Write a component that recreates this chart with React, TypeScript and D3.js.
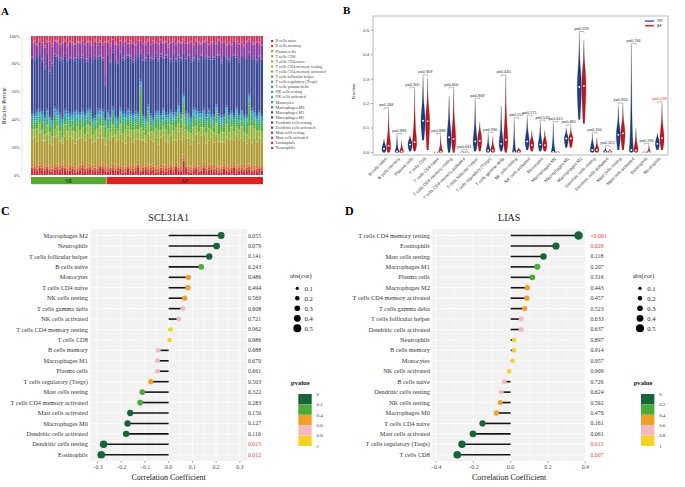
import React from 'react';
import * as d3 from 'd3';

const SERIF = '"Liberation Serif", "Times New Roman", serif';
const SANS = '"Liberation Sans", Arial, sans-serif';

const cellTypes = [
  'B cells naive', 'B cells memory', 'Plasma cells', 'T cells CD8', 'T cells CD4 naive',
  'T cells CD4 memory resting', 'T cells CD4 memory activated', 'T cells follicular helper',
  'T cells regulatory (Tregs)', 'T cells gamma delta', 'NK cells resting', 'NK cells activated',
  'Monocytes', 'Macrophages M0', 'Macrophages M1', 'Macrophages M2', 'Dendritic cells resting',
  'Dendritic cells activated', 'Mast cells resting', 'Mast cells activated', 'Eosinophils', 'Neutrophils',
];
const cellColors = [
  '#c0303a', '#cf553a', '#c8843a', '#b09a36', '#a8ae3a', '#94b63c', '#78b23c', '#56ac3e',
  '#3ea852', '#34a672', '#30a892', '#2ea8b0', '#2c96c0', '#2f78b6', '#3658a6', '#3a4894',
  '#4a40a0', '#6a3ca0', '#8c3c9c', '#ac3a94', '#c0387a', '#c8385a',
];

// ---------- Panel A data (percent per sample) ----------
const groupNames = ['SR', 'AF'];
const groupSizes = [30, 62];
const bNaive = [
  4,5,3,6,4,3,5,4,3,4, 5,3,6,4,3,4,5,2,3,4, 6,3,4,5,3,4,3,6,5,4,
  3,4,5,3,4,6,2,3,5,4, 3,4,6,3,4,5,3,4,5,2, 3,4,4,3,4,5,3,6,4,3, 12,5,3,2,4,5,3,4,6,3, 4,5,3,4,2,3,5,4,3,4, 6,3,4,5,3,4,5,3,4,3, 5,4,
];
const cd8 = [
  20,22,18,25,19,17,24,21,16,20, 23,18,15,22,20,24,19,17,21,23, 18,20,25,22,17,19,21,24,20,18,
  22,19,24,17,21,26,20,18,23,25, 19,22,17,24,20,18,26,21,19,23, 17,22,25,20,18,24,21,19,27,22, 15,20,23,18,21,24,19,26,22,17, 20,23,18,25,21,19,16,24,22,20, 18,25,21,23,19,17,22,20,24,18, 21,19,
];
const cd4MemResting = [
  7,5,9,6,8,4,7,10,6,5, 8,7,4,9,6,7,5,8,10,6, 7,4,6,9,5,8,7,6,9,5,
  8,6,10,5,7,9,6,11,7,5, 9,8,6,10,7,5,9,6,8,7, 11,5,7,9,6,8,7,10,6,9, 17,7,5,8,10,6,9,7,5,8, 10,6,7,9,5,8,7,11,6,9, 7,5,8,10,6,7,9,15,7,8, 6,9,
];
const tfh = [
  4,3,5,2,6,4,3,5,4,7, 3,4,6,2,5,3,4,7,3,5, 4,6,3,5,4,2,5,4,3,6,
  5,3,6,4,2,5,7,3,4,6, 3,5,4,33,3,6,4,5,2,4, 6,3,5,4,7,3,5,4,6,3, 8,4,5,3,6,4,7,3,5,4, 6,3,4,5,7,3,4,6,5,3, 4,7,3,5,4,6,18,4,5,3, 6,4,
];
const macM2 = [
  42,44,39,46,40,34,45,41,43,38, 44,40,47,42,39,45,41,37,43,46, 40,42,38,44,41,47,39,43,40,29,
  46,42,48,40,44,49,41,45,43,47, 42,46,40,24,44,48,41,45,49,43, 40,47,42,46,44,41,48,43,39,45, 32,42,47,44,40,46,43,49,41,45, 42,48,44,40,47,43,46,41,45,42, 48,40,44,47,42,45,34,43,46,41, 44,47,
];
const mastResting = [
  10,12,8,9,11,14,8,10,13,9, 11,8,12,10,9,13,11,8,10,12, 9,11,13,8,10,12,9,11,10,8,
  9,12,8,11,13,9,10,12,8,11, 13,9,10,8,12,11,9,10,13,8, 11,9,12,10,8,13,9,11,10,12, 8,11,9,13,10,8,12,9,11,10, 9,12,10,8,11,13,9,10,12,8, 11,9,13,10,8,12,9,11,10,13, 9,11,
];
const mastActivated = [
  1,2,1,1,2,1,1,18,2,1, 1,2,1,1,2,1,1,2,1,1, 2,1,1,2,1,1,2,1,1,28,
  1,2,1,1,2,1,2,1,1,2, 1,1,2,1,1,2,1,1,2,1, 1,2,1,1,2,1,1,2,1,1, 2,1,1,2,1,1,2,1,1,2, 1,1,2,1,1,2,1,1,2,1, 1,2,1,1,2,1,1,2,1,1, 2,1,
];
const neutrophils = [
  5,4,6,3,5,7,4,5,6,3, 4,6,5,3,7,4,5,6,4,5, 3,6,4,5,7,3,5,4,6,5,
  4,6,3,5,7,4,5,3,6,4, 5,7,3,4,6,5,3,7,4,5, 6,3,5,4,7,5,3,6,4,5, 3,6,5,4,7,3,5,6,4,3, 7,5,4,6,3,5,4,7,5,6, 3,4,6,5,7,4,3,5,6,4, 5,7,
];
const perSample: Record<string, number[]> = {
  'B cells naive': bNaive, 'T cells CD8': cd8, 'T cells CD4 memory resting': cd4MemResting,
  'T cells follicular helper': tfh, 'Macrophages M2': macM2, 'Mast cells resting': mastResting,
  'Mast cells activated': mastActivated, 'Neutrophils': neutrophils,
};
const typicalShare: Record<string, number> = {
  'B cells memory': 2, 'Plasma cells': 3, 'T cells CD4 naive': 0.5, 'T cells CD4 memory activated': 0.5,
  'T cells regulatory (Tregs)': 1.5, 'T cells gamma delta': 1.5, 'NK cells resting': 1.5, 'NK cells activated': 1.5,
  'Monocytes': 2, 'Macrophages M0': 1, 'Macrophages M1': 1.5, 'Dendritic cells resting': 1.5,
  'Dendritic cells activated': 0.8, 'Eosinophils': 0.5,
};
const percentTicks = [0, 0.2, 0.4, 0.6, 0.8, 1];

// ---------- Panel B data: [min, q1, median, q3, max] ----------
const srStats = [
  [0, 0.005, 0.015, 0.03, 0.055], [0, 0, 0.004, 0.01, 0.07], [0.005, 0.02, 0.032, 0.05, 0.07],
  [0.05, 0.1, 0.13, 0.17, 0.31], [0, 0, 0, 0.001, 0.003], [0, 0.03, 0.062, 0.1, 0.23],
  [0, 0, 0.001, 0.002, 0.006], [0.005, 0.025, 0.045, 0.07, 0.215], [0, 0.003, 0.008, 0.02, 0.075],
  [0.005, 0.02, 0.035, 0.06, 0.19], [0, 0, 0.001, 0.004, 0.135], [0.01, 0.03, 0.045, 0.07, 0.145],
  [0.005, 0.02, 0.032, 0.05, 0.125], [0, 0, 0.002, 0.01, 0.12], [0.02, 0.045, 0.057, 0.07, 0.1],
  [0.135, 0.22, 0.268, 0.33, 0.488], [0, 0.003, 0.01, 0.03, 0.075], [0, 0, 0.002, 0.005, 0.02],
  [0.01, 0.05, 0.072, 0.1, 0.19], [0, 0.003, 0.01, 0.03, 0.44], [0, 0, 0.001, 0.002, 0.005],
  [0.01, 0.025, 0.035, 0.055, 0.08],
];
const afStats = [
  [0, 0.01, 0.027, 0.05, 0.175], [0, 0, 0.004, 0.01, 0.048], [0.005, 0.025, 0.042, 0.07, 0.26],
  [0.01, 0.09, 0.128, 0.17, 0.305], [0, 0, 0.003, 0.01, 0.07], [0, 0.03, 0.055, 0.1, 0.26],
  [0, 0, 0.001, 0.002, 0.006], [0.005, 0.03, 0.048, 0.08, 0.125], [0, 0.003, 0.008, 0.02, 0.065],
  [0, 0.02, 0.052, 0.1, 0.31], [0, 0, 0.003, 0.01, 0.02], [0.005, 0.02, 0.03, 0.05, 0.09],
  [0.005, 0.015, 0.03, 0.05, 0.09], [0, 0, 0, 0.002, 0.005], [0.02, 0.045, 0.057, 0.07, 0.105],
  [0.118, 0.22, 0.272, 0.34, 0.46], [0, 0.003, 0.01, 0.02, 0.06], [0, 0, 0.002, 0.004, 0.015],
  [0.01, 0.05, 0.078, 0.11, 0.195], [0, 0.003, 0.008, 0.03, 0.1], [0, 0, 0.001, 0.003, 0.03],
  [0.01, 0.035, 0.058, 0.09, 0.2],
];
const pValuesB = [
  0.268, 0.899, 0.300, 0.909, 0.888, 0.800, 0.641, 0.869, 0.980, 0.440, 0.257,
  0.171, 0.532, 0.615, 0.480, 0.559, 0.184, 0.455, 0.805, 0.766, 0.294, 0.019,
];
const fractionTicks = [0, 0.1, 0.2, 0.3, 0.4, 0.5];

// ---------- Panel C data ----------
const namesC = [
  'Macrophages M2', 'Neutrophils', 'T cells follicular helper', 'B cells naive', 'Monocytes',
  'T cells CD4 naive', 'NK cells resting', 'T cells gamma delta', 'NK cells activated',
  'T cells CD4 memory resting', 'T cells CD8', 'B cells memory', 'Macrophages M1', 'Plasma cells',
  'T cells regulatory (Tregs)', 'Mast cells resting', 'T cells CD4 memory activated',
  'Mast cells activated', 'Macrophages M0', 'Dendritic cells activated', 'Dendritic cells resting', 'Eosinophils',
];
const corC = [
  0.221, 0.202, 0.171, 0.137, 0.083, 0.081, 0.067, 0.060, 0.043, 0.009, 0.004,
  -0.044, -0.047, -0.047, -0.075, -0.111, -0.120, -0.162, -0.173, -0.179, -0.274, -0.284,
];
const pC = [
  0.055, 0.079, 0.141, 0.243, 0.486, 0.494, 0.569, 0.608, 0.721, 0.962, 0.986,
  0.688, 0.670, 0.661, 0.503, 0.322, 0.283, 0.150, 0.127, 0.116, 0.015, 0.012,
];
const ticksC = [-0.3, -0.2, -0.1, 0, 0.1, 0.2, 0.3];

// ---------- Panel D data ----------
const namesD = [
  'T cells CD4 memory resting', 'Eosinophils', 'Mast cells resting', 'Macrophages M1', 'Plasma cells',
  'Macrophages M2', 'T cells CD4 memory activated', 'T cells gamma delta', 'T cells follicular helper',
  'Dendritic cells activated', 'Neutrophils', 'B cells memory', 'Monocytes', 'NK cells activated',
  'B cells naive', 'Dendritic cells resting', 'NK cells resting', 'Macrophages M0', 'T cells CD4 naive',
  'Mast cells activated', 'T cells regulatory (Tregs)', 'T cells CD8',
];
const corD = [
  0.364, 0.243, 0.176, 0.143, 0.116, 0.089, 0.087, 0.075, 0.057, 0.057, 0.019,
  0.018, 0.010, -0.008, -0.034, -0.050, -0.056, -0.076, -0.151, -0.202, -0.261, -0.286,
];
const pD = [
  0.0005, 0.028, 0.118, 0.207, 0.316, 0.443, 0.457, 0.523, 0.633, 0.637, 0.897,
  0.914, 0.957, 0.909, 0.726, 0.624, 0.592, 0.470, 0.161, 0.061, 0.015, 0.007,
];
const ticksD = [-0.4, -0.2, 0, 0.2, 0.4];

const sizeLegendValues = [0.1, 0.2, 0.3, 0.4, 0.5];
const pBinEdges = [0, 0.2, 0.4, 0.6, 0.8, 1];
const pBinColors = ['#17663a', '#4aaa3a', '#f0a028', '#f4b9c3', '#f5d224'];

const fmtMinus = (v: number, dig: number) => (v < -1e-9 ? '\u2212' : '') + Math.abs(v).toFixed(dig);

function PanelA() {
  const n = d3.sum(groupSizes);
  const idx = d3.range(n);
  const table = idx.map((i) => {
    const row: Record<string, number> = {};
    cellTypes.forEach((ct) => {
      row[ct] = perSample[ct] ? perSample[ct][i] : typicalShare[ct];
    });
    return row;
  });
  const series = d3.stack<Record<string, number>>().keys(cellTypes).offset(d3.stackOffsetExpand)(table);
  const x = d3.scaleBand<number>().domain(idx).range([31, 263]).paddingInner(0.14);
  const y = d3.scaleLinear().domain([0, 1]).range([175, 36]);
  const starts = groupSizes.map((_, g) => d3.sum(groupSizes.slice(0, g)));
  const groupCols = ['#5aa832', '#dd2222'];
  const legendY = d3.scalePoint<string>().domain(cellTypes).range([41, 148]);
  return (
    <g>
      <text x={1} y={15} fontFamily={SERIF} fontWeight="bold" fontSize={11}>A</text>
      {series.map((s, k) => (
        <g key={k} fill={cellColors[k]}>
          {s.map((d, i) => (
            <rect key={i} x={x(i)} width={x.bandwidth()} y={y(d[1])} height={Math.max(0, y(d[0]) - y(d[1]))} />
          ))}
        </g>
      ))}
      <line x1={22} x2={22} y1={36} y2={175} stroke="#c8c8c8" strokeWidth={0.5} />
      {percentTicks.map((t) => (
        <text key={t} x={20} y={y(t) + 1.5} textAnchor="end" fontFamily={SERIF} fontSize={4.6} fill="#444">
          {Math.round(t * 100)}%
        </text>
      ))}
      <text transform={`translate(6,${(36 + 175) / 2}) rotate(-90)`} textAnchor="middle" fontFamily={SERIF} fontSize={5.6} fill="#333">
        Relative Percent
      </text>
      {groupNames.map((g, gi) => {
        const x0 = x(starts[gi])!;
        const x1 = x(starts[gi] + groupSizes[gi] - 1)! + x.bandwidth();
        return (
          <g key={g}>
            <rect x={x0} y={177} width={x1 - x0} height={7.2} fill={groupCols[gi]} />
            <text x={(x0 + x1) / 2} y={182.6} textAnchor="middle" fontFamily={SERIF} fontSize={5.2} fill="#222">{g}</text>
          </g>
        );
      })}
      {cellTypes.map((ct, k) => (
        <g key={ct}>
          <rect x={271} y={legendY(ct)! - 1.1} width={2.2} height={2.2} fill={cellColors[k]} />
          <text x={275.5} y={legendY(ct)! + 1.4} fontFamily={SERIF} fontSize={4.1} fill="#444">
            {ct.replace('Macrophages ', 'Macrophages   ')}
          </text>
        </g>
      ))}
    </g>
  );
}

function PanelB() {
  const y = d3.scaleLinear().domain([0, 0.5]).range([152.4, 30.4]);
  const x = d3.scalePoint<string>().domain(cellTypes).range([386.3, 659.7]);
  const off = 2.3;
  const hw = 2.25;
  const violinPath = (s: number[], cx: number) => {
    const [mn, q1, md, q3, mx] = s;
    const pts: [number, number][] = [
      [mn, 0.35], [q1, 0.85], [md, 1], [q3, 0.7], [q3 + (mx - q3) * 0.3, 0.2], [mx, 0],
    ];
    return d3.area<[number, number]>()
      .y((d) => y(d[0]))
      .x0((d) => cx - d[1] * hw)
      .x1((d) => cx + d[1] * hw)
      .curve(d3.curveBasis)(pts) || '';
  };
  return (
    <g>
      <defs>
        <linearGradient id="gSR" x1="0" y1="1" x2="0" y2="0">
          <stop offset="0" stopColor="#1c3d8a" />
          <stop offset="0.5" stopColor="#1c3d8a" />
          <stop offset="1" stopColor="#2a2a2a" />
        </linearGradient>
        <linearGradient id="gAF" x1="0" y1="1" x2="0" y2="0">
          <stop offset="0" stopColor="#c4141e" />
          <stop offset="0.5" stopColor="#c4141e" />
          <stop offset="1" stopColor="#555555" />
        </linearGradient>
      </defs>
      <text x={343} y={14} fontFamily={SERIF} fontWeight="bold" fontSize={11}>B</text>
      <rect x={373} y={16} width={295} height={139} fill="white" stroke="#a8a8a8" strokeWidth={0.8} />
      {fractionTicks.map((t) => (
        <g key={t}>
          <line x1={370.5} x2={373} y1={y(t)} y2={y(t)} stroke="#444" strokeWidth={0.4} />
          <text x={369} y={y(t) + 1.4} textAnchor="end" fontFamily={SANS} fontSize={4.2} fill="#333">{t.toFixed(1)}</text>
        </g>
      ))}
      <text transform={`translate(355,${y(0.25)}) rotate(-90)`} textAnchor="middle" fontFamily={SANS} fontSize={4.4} fill="#333">Fraction</text>
      {cellTypes.map((ct, k) => {
        const cx = x(ct)!;
        const s = srStats[k];
        const a = afStats[k];
        const top = y(Math.max(s[4], a[4])) - 1.8;
        const p = pValuesB[k];
        return (
          <g key={ct}>
            <path d={violinPath(s, cx - off)} fill="url(#gSR)" stroke="#1a1a2a" strokeWidth={0.2} />
            <path d={violinPath(a, cx + off)} fill="url(#gAF)" stroke="#3a1a1a" strokeWidth={0.2} />
            <circle cx={cx - off} cy={y(s[2])} r={0.95} fill="white" />
            <circle cx={cx + off} cy={y(a[2])} r={0.95} fill="white" />
            <path d={`M${cx - off},${top + 1.6}V${top}H${cx + off}V${top + 1.6}`} fill="none" stroke="#555" strokeWidth={0.4} />
            <text x={cx} y={top - 1.6} textAnchor="middle" fontFamily={SANS} fontSize={3.9} fill={p < 0.05 ? '#e8312f' : '#333'}>
              p={p.toFixed(3)}
            </text>
            <text transform={`translate(${cx + 1},159) rotate(-45)`} textAnchor="end" fontFamily={SANS} fontSize={4.3} fill="#333">{ct}</text>
          </g>
        );
      })}
      <line x1={645} x2={654} y1={21} y2={21} stroke="#4a6ab0" strokeWidth={1.6} />
      <line x1={645} x2={654} y1={25.7} y2={25.7} stroke="#e03030" strokeWidth={1.6} />
      <text x={657} y={22.4} fontFamily={SANS} fontSize={4} fill="#444">SR</text>
      <text x={657} y={27.1} fontFamily={SANS} fontSize={4} fill="#444">AF</text>
    </g>
  );
}

interface LolliProps {
  letter: string; letterX: number; title: string; names: string[]; cors: number[]; pvals: number[];
  left: number; right: number; domain: [number, number]; ticks: number[]; pTextX: number; legendX: number;
}

function Lollipop(props: LolliProps) {
  const { letter, letterX, title, names, cors, pvals, left, right, domain, ticks, pTextX, legendX } = props;
  const top = 229.3, bottom = 461;
  const x = d3.scaleLinear().domain(domain).range([left, right]);
  const y = d3.scalePoint<string>().domain(names).range([top, bottom]).padding(0.6);
  const colorOf = d3.scaleThreshold<number, string>().domain(pBinEdges.slice(1, -1)).range(pBinColors);
  const rPlot = (v: number) => 2.2 + Math.abs(v) * 5.8;
  const rLegend = (v: number) => 1.05 + v * 5.9;
  const minor = ticks.slice(0, -1).map((t, i) => (t + ticks[i + 1]) / 2);
  const cx = (left + right) / 2;
  const barY = d3.scaleLinear().domain([0, 1]).range([394, 446]);
  return (
    <g>
      <text x={letterX} y={215} fontFamily={SERIF} fontWeight="bold" fontSize={12}>{letter}</text>
      <text x={cx} y={220.5} textAnchor="middle" fontFamily={SERIF} fontSize={10} fill="#222">{title}</text>
      <rect x={left} y={top} width={right - left} height={bottom - top} fill="#f2f2f2" />
      {minor.map((t) => (
        <line key={'m' + t} x1={x(t)} x2={x(t)} y1={top} y2={bottom} stroke="white" strokeWidth={0.4} />
      ))}
      {ticks.map((t) => (
        <line key={'M' + t} x1={x(t)} x2={x(t)} y1={top} y2={bottom} stroke="white" strokeWidth={0.8} />
      ))}
      {names.map((nm) => (
        <line key={'h' + nm} x1={left} x2={right} y1={y(nm)} y2={y(nm)} stroke="white" strokeWidth={0.8} />
      ))}
      {names.map((nm, i) => (
        <g key={nm}>
          <line x1={x(0)} x2={x(cors[i])} y1={y(nm)} y2={y(nm)} stroke="#161616" strokeWidth={1.6} />
          <circle cx={x(cors[i])} cy={y(nm)} r={rPlot(cors[i])} fill={colorOf(pvals[i])} />
          <text x={left - 2.5} y={y(nm)! + 2.1} textAnchor="end" fontFamily={SERIF} fontSize={6.3} fill="#333">{nm}</text>
          <text x={pTextX} y={y(nm)! + 2} fontFamily={SERIF} fontSize={5.8} fill={pvals[i] < 0.05 ? '#e8413c' : '#333'}>
            {pvals[i] < 0.001 ? '<0.001' : pvals[i].toFixed(3)}
          </text>
        </g>
      ))}
      {ticks.map((t) => (
        <g key={'t' + t}>
          <line x1={x(t)} x2={x(t)} y1={bottom} y2={bottom + 2} stroke="#555" strokeWidth={0.5} />
          <text x={x(t)} y={469} textAnchor="middle" fontFamily={SERIF} fontSize={5.8} fill="#4d4d4d">{fmtMinus(t, 1)}</text>
        </g>
      ))}
      <text x={cx} y={479.5} textAnchor="middle" fontFamily={SERIF} fontSize={8} fill="#222">Correlation Coefficient</text>
      <text x={legendX} y={277.5} fontFamily={SERIF} fontSize={6.6} fill="#222">abs(cor)</text>
      {sizeLegendValues.map((v, i) => (
        <g key={v}>
          <circle cx={legendX + 7.3} cy={288.3 + i * 10} r={rLegend(v)} fill="black" />
          <text x={legendX + 14.5} y={288.3 + i * 10 + 2.3} fontFamily={SERIF} fontSize={6.6} fill="#222">{v}</text>
        </g>
      ))}
      <text x={legendX + 1} y={385} fontFamily={SERIF} fontWeight="bold" fontSize={6.6} fill="#222">pvalue</text>
      {pBinColors.map((c, i) => (
        <rect key={c} x={legendX + 8.3} y={barY(pBinEdges[i])} width={13.4} height={barY(pBinEdges[i + 1]) - barY(pBinEdges[i])} fill={c} />
      ))}
      {pBinEdges.map((e) => (
        <text key={e} x={legendX + 26.5} y={barY(e) + 1.7} fontFamily={SERIF} fontSize={4.9} fill="#333">{e}</text>
      ))}
    </g>
  );
}

export default function App() {
  return (
    <svg width={685} height={487} viewBox="0 0 685 487" style={{ position: 'absolute', left: 0, top: 0, background: 'white' }}>
      <rect width={685} height={487} fill="white" />
      <PanelA />
      <PanelB />
      <Lollipop letter="C" letterX={1} title="SCL31A1" names={namesC} cors={corC} pvals={pC}
        left={90.3} right={247} domain={[-0.33, 0.33]} ticks={ticksC} pTextX={248} legendX={290} />
      <Lollipop letter="D" letterX={345} title="LIAS" names={namesD} cors={corD} pvals={pD}
        left={432.3} right={586} domain={[-0.42, 0.404]} ticks={ticksD} pTextX={590.5} legendX={632.7} />
    </svg>
  );
}
